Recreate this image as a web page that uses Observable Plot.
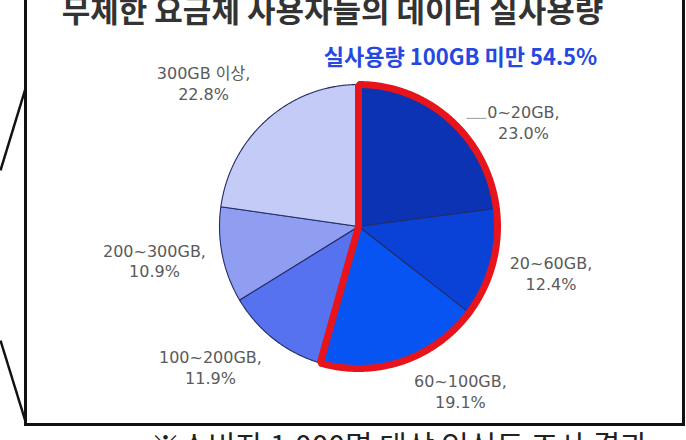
<!DOCTYPE html>
<html><head><meta charset="utf-8">
<script src="https://cdn.jsdelivr.net/npm/d3@7"></script>
<script src="https://cdn.jsdelivr.net/npm/@observablehq/plot@0.6"></script>
<style>
html,body{margin:0;padding:0;background:#fff;overflow:hidden}
#chart svg{display:block}
</style>
</head><body><div id="chart"></div>
<script>
// ---- data ----
const categories = ["0~20GB", "20~60GB", "60~100GB", "100~200GB", "200~300GB", "300GB 이상"];
const shares = [23.0, 12.4, 19.1, 11.9, 10.9, 22.8];
const sliceColors = ["#0c33b3", "#0a42d8", "#0854f3", "#5672ee", "#8f9ef0", "#c3cbf6"];
const highlightCount = 3;
const titleText = "무제한 요금제 사용자들의 데이터 실사용량";
const highlightText = "실사용량 100GB 미만 54.5%";
const captionText = "※소비자 1,000명 대상 인식도 조사 결과";

// ---- layout (pixels / polar placements) ----
const W = 686, H = 440, cx = 358, cy = 226, rx = 139, ry = 142;
const labelPlacement = [[58.1, 1.398], [103.2, 1.422], [147.6, 1.368], [227.1, 1.454], [260.8, 1.487], [312.3, 1.507]];
const leaderPlacement = [{from: [45.6, 1.088], to: [50.4, 1.195]}];
const calloutPx = [{x1: 25, y1: 88, x2: 0, y2: 170}, {x1: 0, y1: 340, x2: 25, y2: 421}];

const deg = Math.PI / 180;
const polar = ([a, r]) => ({x: r * Math.sin(a * deg), y: r * Math.cos(a * deg)});
const ux = px => (px - cx) / rx, uy = py => (cy - py) / ry;

const total = d3.sum(shares);
let acc = 0;
const slices = categories.map((c, i) => {
  const a0 = acc / total * 2 * Math.PI; acc += shares[i];
  const a1 = acc / total * 2 * Math.PI;
  return {category: c, value: shares[i], a0, a1};
});
function arcPoints(a0, a1, key) {
  const pts = [{key, x: 0, y: 0}];
  const n = Math.max(2, Math.ceil((a1 - a0) / (Math.PI / 360)));
  for (let k = 0; k <= n; k++) {
    const a = a0 + (a1 - a0) * k / n;
    pts.push({key, x: Math.sin(a), y: Math.cos(a)});
  }
  return pts;
}
const slicePts = slices.flatMap(s => arcPoints(s.a0, s.a1, s.category));
const hlPts = arcPoints(0, slices[highlightCount - 1].a1, "hl");
const labels = slices.map((s, i) => ({...s, ...polar(labelPlacement[i])}));
const leaders = leaderPlacement.map(d => {
  const p = polar(d.from), q = polar(d.to);
  return {x1: p.x, y1: p.y, x2: q.x, y2: q.y};
});
const callouts = calloutPx.map(d => ({x1: ux(d.x1), y1: uy(d.y1), x2: ux(d.x2), y2: uy(d.y2)}));

const font = "'DejaVu Sans', 'Noto Sans CJK KR', sans-serif";
const cjk = "'Noto Sans CJK KR', sans-serif";

const chart = Plot.plot({
  width: W, height: H, margin: 0,
  style: {background: "#fff", fontFamily: font},
  x: {domain: [ux(0), ux(W)], axis: null},
  y: {domain: [uy(H), uy(0)], axis: null},
  color: {domain: categories, range: sliceColors},
  marks: [
    Plot.line(slicePts, {x: "x", y: "y", z: "key", fill: "key", stroke: "#222c66", strokeWidth: 1.1, curve: "linear-closed"}),
    Plot.line(hlPts, {x: "x", y: "y", fill: "none", stroke: "#e8141c", strokeWidth: 7, strokeLinejoin: "miter", curve: "linear-closed"}),
    Plot.link(leaders, {x1: "x1", y1: "y1", x2: "x2", y2: "y2", stroke: "#999", strokeWidth: 1}),
    Plot.text(labels, {x: "x", y: "y", text: d => `${d.category},\n${d.value.toFixed(1)}%`, fontSize: 16, lineHeight: 1.3, fill: "#5a5a5a", textAnchor: "middle"}),
    Plot.frame({insetLeft: 25, insetRight: 3, insetBottom: 16, insetTop: -20, stroke: "#111", strokeWidth: 3}),
    Plot.link(callouts, {x1: "x1", y1: "y1", x2: "x2", y2: "y2", stroke: "#111", strokeWidth: 2.5}),
    Plot.text([titleText], {frameAnchor: "top", dx: -11, dy: 12, lineAnchor: "middle", fontSize: 31, fontWeight: "bold", fill: "#333", fontFamily: cjk}),
    Plot.text([highlightText], {frameAnchor: "top", dx: 117, dy: 57, lineAnchor: "middle", fontSize: 22, fontWeight: "bold", fill: "#2448e0", fontFamily: cjk}),
    Plot.text([captionText], {frameAnchor: "bottom-left", dx: 150, dy: -5, lineAnchor: "top", textAnchor: "start", fontSize: 30, fill: "#222", fontFamily: cjk})
  ]
});
document.getElementById("chart").append(chart);
</script>
</body></html>
